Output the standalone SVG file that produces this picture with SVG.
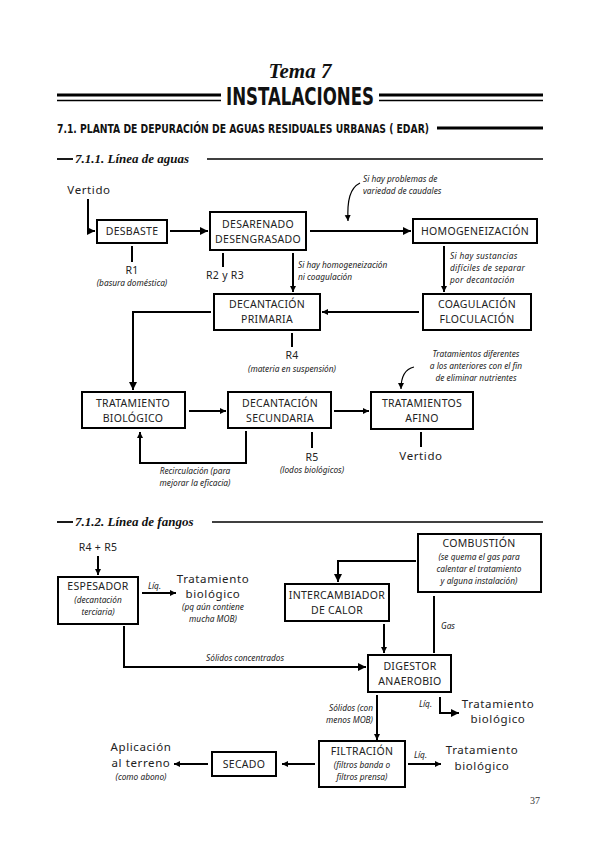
<svg xmlns="http://www.w3.org/2000/svg" width="599" height="848" viewBox="0 0 599 848">
<defs>
<marker id="ah" markerUnits="userSpaceOnUse" markerWidth="9" markerHeight="9" refX="8" refY="4" orient="auto"><path d="M0,0 L8,4 L0,8 z" fill="#000"/></marker>
<marker id="ahs" markerUnits="userSpaceOnUse" markerWidth="7" markerHeight="7" refX="6" refY="3" orient="auto"><path d="M0,0 L6,3 L0,6 z" fill="#000"/></marker>
<style>
.box{fill:#fff;stroke:#000;stroke-width:2}
.t{font-family:"Noto Sans","DejaVu Sans",sans-serif;font-size:10.5px;fill:#222;text-anchor:middle;letter-spacing:0.3px}
.n{font-family:"Noto Sans","DejaVu Sans",sans-serif;font-size:8.3px;font-style:italic;fill:#222;text-anchor:middle}
.nl{font-family:"Noto Sans","DejaVu Sans",sans-serif;font-size:8.3px;font-style:italic;fill:#222}
.b{font-family:"Noto Sans","DejaVu Sans",sans-serif;font-size:11.5px;fill:#222;text-anchor:middle;letter-spacing:0.6px}
.c{fill:none;stroke:#000;stroke-width:2}
.cs{fill:none;stroke:#000;stroke-width:1.2}
.h{font-family:"DejaVu Sans Condensed","Liberation Sans Narrow","DejaVu Sans",sans-serif;font-weight:bold;fill:#111}
</style>
</defs>
<rect width="599" height="848" fill="#fff"/>

<g id="header">
<text x="300" y="78" text-anchor="middle" font-family="Liberation Serif,serif" font-weight="bold" font-style="italic" font-size="21" fill="#111">Tema 7</text>
<text x="300" y="105" text-anchor="middle" class="h" font-size="24" textLength="148" lengthAdjust="spacingAndGlyphs">INSTALACIONES</text>
<line x1="57" y1="95" x2="221" y2="95" stroke="#000" stroke-width="3"/>
<line x1="57" y1="100.5" x2="221" y2="100.5" stroke="#000" stroke-width="1.5"/>
<line x1="379" y1="95" x2="543" y2="95" stroke="#000" stroke-width="3"/>
<line x1="379" y1="100.5" x2="543" y2="100.5" stroke="#000" stroke-width="1.5"/>
<text x="57" y="133" class="h" font-size="13" textLength="372" lengthAdjust="spacingAndGlyphs">7.1. PLANTA DE DEPURACIÓN DE AGUAS RESIDUALES URBANAS ( EDAR)</text>
<line x1="437" y1="128" x2="543" y2="128" stroke="#000" stroke-width="3"/>
<line x1="57" y1="159" x2="73" y2="159" stroke="#000" stroke-width="1.8"/>
<text x="75" y="163" font-family="Liberation Serif,serif" font-weight="bold" font-style="italic" font-size="13" fill="#111">7.1.1. Línea de aguas</text>
<line x1="207" y1="159" x2="543" y2="159" stroke="#000" stroke-width="1.5"/>
<line x1="57" y1="522" x2="73" y2="522" stroke="#000" stroke-width="1.8"/>
<text x="75" y="526" font-family="Liberation Serif,serif" font-weight="bold" font-style="italic" font-size="13" fill="#111">7.1.2. Línea de fangos</text>
<line x1="212" y1="522" x2="543" y2="522" stroke="#000" stroke-width="1.5"/>
<text x="535" y="804" text-anchor="middle" font-family="Liberation Serif,serif" font-size="10" fill="#333">37</text>
</g>

<g id="connectors">
<path class="c" d="M88,199 V231 H95" marker-end="url(#ah)"/>
<path class="c" d="M170,231 H208" marker-end="url(#ah)"/>
<path class="c" d="M310,231 H411" marker-end="url(#ah)"/>
<path class="cs" d="M360,183 C350,188 347,200 348,221" marker-end="url(#ahs)"/>
<path class="c" d="M132,246 V262"/>
<path class="c" d="M223,253 V267"/>
<path class="c" d="M293,253 V292" marker-end="url(#ahs)"/>
<path class="c" d="M444,246 V292" marker-end="url(#ahs)"/>
<path class="c" d="M419,312 H322" marker-end="url(#ahs)"/>
<path class="c" d="M211,312 H133 V390" marker-end="url(#ah)"/>
<path class="c" d="M292,333 V347"/>
<path class="c" d="M189,411 H226" marker-end="url(#ahs)"/>
<path class="c" d="M334,411 H369" marker-end="url(#ahs)"/>
<path class="c" d="M421,432 V447"/>
<path class="cs" d="M414,367 C405,369 401,376 401,389" marker-end="url(#ahs)"/>
<path class="c" d="M312,432 V448"/>
<path class="c" d="M246,431 V463 H140 V432" marker-end="url(#ahs)"/>

<path class="c" d="M98,556 V575" marker-end="url(#ahs)"/>
<path class="c" d="M142,593 H176" marker-end="url(#ahs)"/>
<path class="c" d="M124,626 V667 H366" marker-end="url(#ah)"/>
<path class="c" d="M416,561 H338 V582" marker-end="url(#ah)"/>
<path class="c" d="M384,624 V653" marker-end="url(#ahs)"/>
<path class="c" d="M434,653 V596"/>
<path class="c" d="M377,695 V740" marker-end="url(#ahs)"/>
<path class="c" d="M440,697 V713 H459" marker-end="url(#ah)"/>
<path class="c" d="M315,764 H282" marker-end="url(#ahs)"/>
<path class="c" d="M208,764 H174" marker-end="url(#ahs)"/>
<path class="c" d="M408,764 H441" marker-end="url(#ahs)"/>
</g>

<g id="labels">
<text x="89" y="194" class="b">Vertido</text>
<text x="132" y="274" class="t">R1</text>
<text x="132" y="286" class="n">(basura doméstica)</text>
<text x="225" y="279" class="t">R2 y R3</text>
<text x="298" y="268" class="nl">Si hay homogeneización</text>
<text x="298" y="280" class="nl">ni coagulación</text>
<text x="363" y="182" class="nl">Si hay problemas de</text>
<text x="363" y="194" class="nl">variedad de caudales</text>
<text x="450" y="259" class="nl" letter-spacing="0.3">Si hay sustancias</text>
<text x="450" y="271" class="nl" letter-spacing="0.3">difíciles de separar</text>
<text x="450" y="283" class="nl" letter-spacing="0.3">por decantación</text>
<text x="292" y="359" class="t">R4</text>
<text x="292" y="372" class="n">(materia en suspensión)</text>
<text x="476" y="357" class="n">Tratamientos diferentes</text>
<text x="476" y="369" class="n">a los anteriores con el fin</text>
<text x="476" y="381" class="n">de eliminar nutrientes</text>
<text x="421" y="460" class="b">Vertido</text>
<text x="312" y="461" class="t">R5</text>
<text x="312" y="473" class="n">(lodos biológicos)</text>
<text x="195" y="474" class="n">Recirculación (para</text>
<text x="195" y="486" class="n">mejorar la eficacia)</text>

<text x="98" y="551" class="t">R4 + R5</text>
<text x="148" y="589" class="nl">Líq.</text>
<text x="213" y="583" class="b">Tratamiento</text>
<text x="213" y="598" class="b">biológico</text>
<text x="213" y="610" class="n">(pq aún contiene</text>
<text x="213" y="622" class="n">mucha MOB)</text>
<text x="245" y="661" class="n">Sólidos concentrados</text>
<text x="441" y="629" class="nl">Gas</text>
<text x="373" y="711" class="n" style="text-anchor:end">Sólidos (con</text>
<text x="373" y="723" class="n" style="text-anchor:end">menos MOB)</text>
<text x="419" y="707" class="nl">Líq.</text>
<text x="498" y="708" class="b">Tratamiento</text>
<text x="498" y="723" class="b">biológico</text>
<text x="414" y="758" class="nl">Líq.</text>
<text x="482" y="754" class="b">Tratamiento</text>
<text x="482" y="770" class="b">biológico</text>
<text x="141" y="751" class="b">Aplicación</text>
<text x="141" y="767" class="b">al terreno</text>
<text x="141" y="780" class="n">(como abono)</text>
</g>

<g id="desbaste"><rect class="box" x="97" y="220" width="70" height="23"/><text x="132" y="235" class="t">DESBASTE</text></g>
<g id="desarenado"><rect class="box" x="210" y="212" width="96" height="38"/><text x="258" y="228" class="t">DESARENADO</text><text x="258" y="243" class="t">DESENGRASADO</text></g>
<g id="homogeneizacion"><rect class="box" x="413" y="219" width="124" height="24"/><text x="475" y="235" class="t">HOMOGENEIZACIÓN</text></g>
<g id="decantacion-primaria"><rect class="box" x="214" y="294" width="106" height="36"/><text x="267" y="308" class="t">DECANTACIÓN</text><text x="267" y="323" class="t">PRIMARIA</text></g>
<g id="coagulacion"><rect class="box" x="423" y="294" width="108" height="36"/><text x="477" y="308" class="t">COAGULACIÓN</text><text x="477" y="323" class="t">FLOCULACIÓN</text></g>
<g id="tratamiento-biologico"><rect class="box" x="82" y="392" width="103" height="36"/><text x="133" y="407" class="t">TRATAMIENTO</text><text x="133" y="422" class="t">BIOLÓGICO</text></g>
<g id="decantacion-secundaria"><rect class="box" x="228" y="392" width="103" height="36"/><text x="280" y="407" class="t">DECANTACIÓN</text><text x="280" y="422" class="t">SECUNDARIA</text></g>
<g id="tratamientos-afino"><rect class="box" x="371" y="392" width="102" height="37"/><text x="422" y="407" class="t">TRATAMIENTOS</text><text x="422" y="422" class="t">AFINO</text></g>

<g id="espesador"><rect class="box" x="58" y="577" width="80" height="47"/><text x="98" y="590" class="t">ESPESADOR</text><text x="98" y="603" class="n">(decantación</text><text x="98" y="615" class="n">terciaria)</text></g>
<g id="combustion"><rect class="box" x="418" y="534" width="123" height="58"/><text x="479" y="547" class="t">COMBUSTIÓN</text><text x="479" y="560" class="n">(se quema el gas para</text><text x="479" y="572" class="n">calentar el tratamiento</text><text x="479" y="584" class="n">y alguna instalación)</text></g>
<g id="intercambiador"><rect class="box" x="285" y="584" width="104" height="37"/><text x="337" y="599" class="t">INTERCAMBIADOR</text><text x="337" y="614" class="t">DE CALOR</text></g>
<g id="digestor"><rect class="box" x="368" y="655" width="83" height="37"/><text x="410" y="670" class="t">DIGESTOR</text><text x="410" y="685" class="t">ANAEROBIO</text></g>
<g id="filtracion"><rect class="box" x="319" y="741" width="86" height="46"/><text x="362" y="755" class="t">FILTRACIÓN</text><text x="362" y="768" class="n">(filtros banda o</text><text x="362" y="780" class="n">filtros prensa)</text></g>
<g id="secado"><rect class="box" x="212" y="752" width="64" height="24"/><text x="244" y="768" class="t">SECADO</text></g>
</svg>
